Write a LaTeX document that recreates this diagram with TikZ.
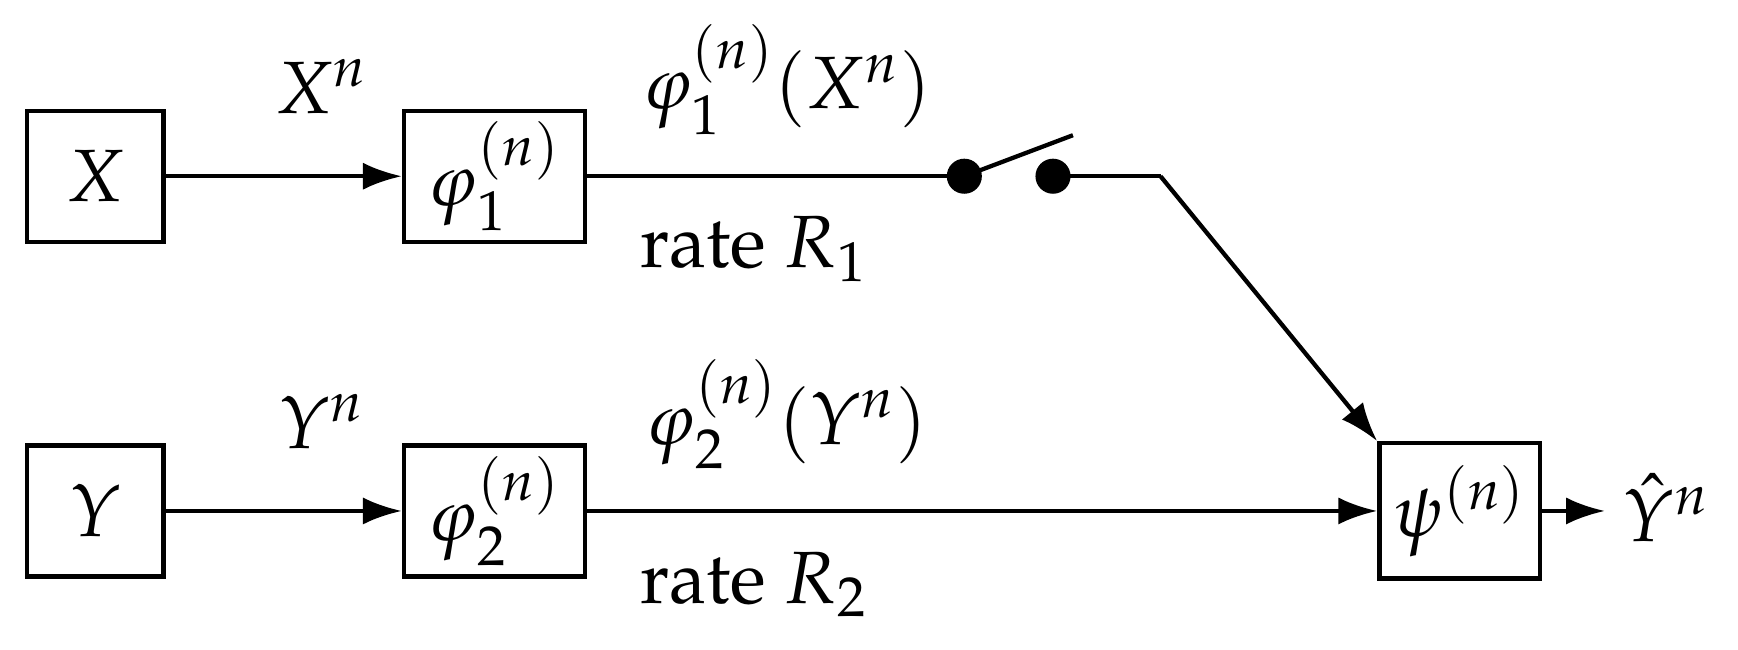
\documentclass[tikz,border=0pt]{standalone}
\usepackage[T1]{fontenc}
\usepackage{mathpazo}
\usetikzlibrary{arrows.meta}
\begin{document}
\begin{tikzpicture}[x=0.01cm,y=-0.01cm,
  box/.style={draw,line width=1.1pt,minimum height=1.18cm,inner sep=0pt},
  every node/.append style={font=\fontsize{19}{23}\selectfont},
  ln/.style={line width=1.1pt},
  arr/.style={ln,-{Latex[length=10pt,width=7pt]}},
  dot/.style={circle,fill,inner sep=0pt,minimum size=9pt}]
\useasboundingbox (0,0) rectangle (1568,586);
\node[box,minimum width=1.23cm] (X) at (86,159) {$X$};
\node[box,minimum width=1.63cm] (p1) at (446,159) {$\varphi_1^{(n)}$};
\node[box,minimum width=1.23cm] (Y) at (86,461) {$Y$};
\node[box,minimum width=1.63cm] (p2) at (446,461) {$\varphi_2^{(n)}$};
\node[box,minimum width=1.45cm,minimum height=1.22cm] (psi) at (1317,461) {$\psi^{(n)}$};
\node[dot] (d1) at (870,159) {};
\node[dot] (d2) at (950,159) {};
\coordinate (lev) at (968,122);
\coordinate (bend) at (1047,159);
\coordinate (out) at (1448,461);
\node[anchor=west] (yh) at (1452,458) {$\hat{Y}^n$};
\draw[arr] (X) -- (p1);
\draw[arr] (Y) -- (p2);
\draw[ln] (p1.east) -- (d1.center);
\draw[ln] (d1.center) -- (lev);
\draw[ln] (d2.center) -- (bend);
\draw[arr] (bend) -- (psi.north west);
\draw[arr] (p2) -- (psi);
\draw[arr] (psi) -- (out);
\node at (290,78) {$X^n$};
\node at (710,72) {$\varphi_1^{(n)}(X^n)$};
\node at (680,225) {rate $R_1$};
\node at (290,380) {$Y^n$};
\node at (710,374) {$\varphi_2^{(n)}(Y^n)$};
\node at (680,527) {rate $R_2$};
\end{tikzpicture}
\end{document}
